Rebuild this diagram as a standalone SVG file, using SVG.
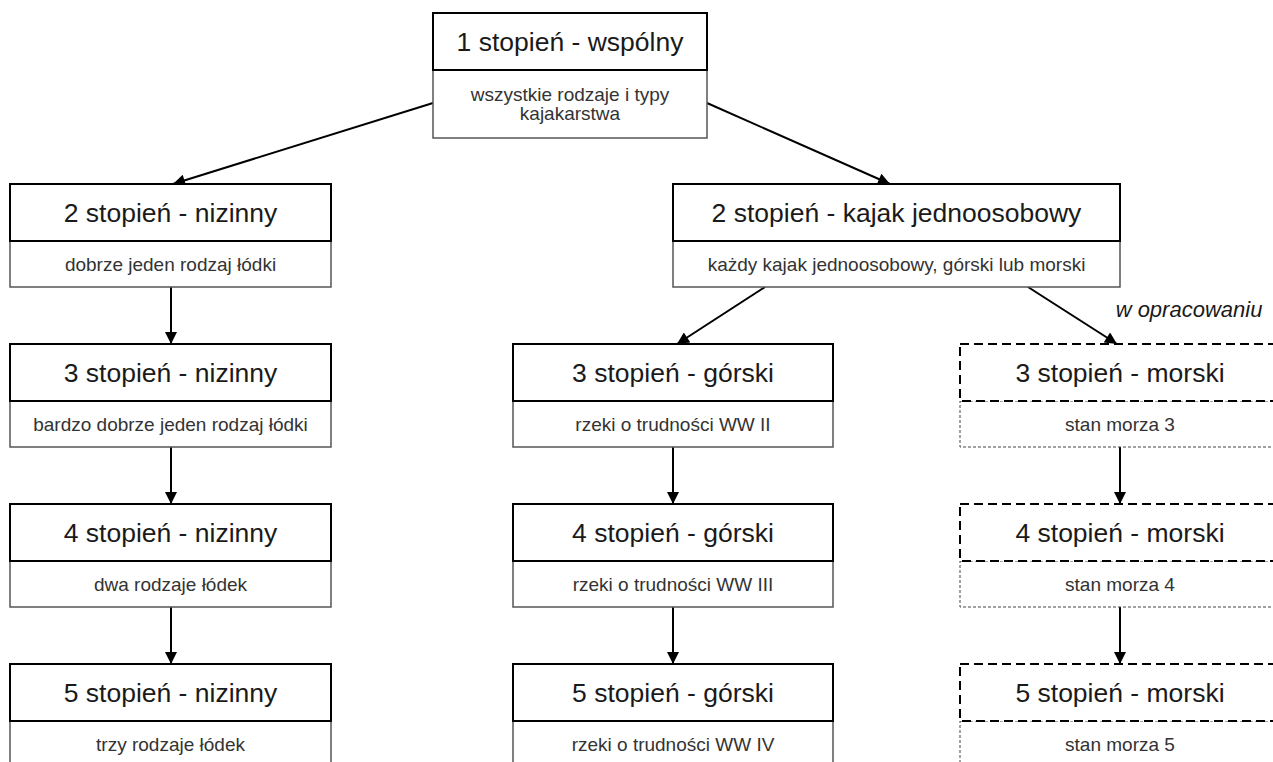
<svg xmlns="http://www.w3.org/2000/svg" width="1273" height="762" viewBox="0 0 1273 762">
<style>
.hdr{fill:#fff;stroke:#000;stroke-width:2}
.bdy{fill:#fff;stroke:#555;stroke-width:1.5}
.hdrd{fill:none;stroke:#000;stroke-width:2;stroke-dasharray:9 5}
.bdyd{fill:#fff;stroke:#444;stroke-width:1;stroke-dasharray:3 2}
.t1{font-family:"Liberation Sans",Arial,sans-serif;font-size:26.5px;fill:#1a1a1a;text-anchor:middle}
.t2{font-family:"Liberation Sans",Arial,sans-serif;font-size:19px;fill:#333;text-anchor:middle}
.note{font-family:"Liberation Sans",Arial,sans-serif;font-size:22px;font-style:italic;fill:#1a1a1a;text-anchor:middle}
.conn line{stroke:#000;stroke-width:2;marker-end:url(#arr)}
</style>
<defs>
<marker id="arr" viewBox="0 0 10 10" refX="10" refY="5" markerWidth="15" markerHeight="12" markerUnits="userSpaceOnUse" orient="auto">
<path d="M0,0 L10,5 L0,10 z" fill="#000"/>
</marker>
</defs>
<rect width="1273" height="762" fill="#fff"/>

<g class="conn" id="connectors">
<line x1="433" y1="103" x2="173" y2="184"/>
<line x1="707" y1="103" x2="890" y2="184"/>
<line x1="765" y1="287" x2="677" y2="344"/>
<line x1="1028" y1="287" x2="1117" y2="344"/>
<line x1="171" y1="287" x2="171" y2="344"/>
<line x1="171" y1="447" x2="171" y2="504"/>
<line x1="171" y1="607" x2="171" y2="664"/>
<line x1="673" y1="447" x2="673" y2="504"/>
<line x1="673" y1="607" x2="673" y2="664"/>
<line x1="1120" y1="447" x2="1120" y2="504"/>
<line x1="1120" y1="607" x2="1120" y2="664"/>
</g>

<g id="n1">
<rect class="bdy" x="433" y="70" width="274" height="68"/>
<rect class="hdr" x="433" y="13" width="274" height="57"/>
<text class="t1" x="570" y="50.5">1 stopień - wspólny</text>
<text class="t2" x="570" y="101">wszystkie rodzaje i typy</text>
<text class="t2" x="570" y="120">kajakarstwa</text>
</g>

<g id="n2n">
<rect class="bdy" x="10" y="241" width="321" height="46"/>
<rect class="hdr" x="10" y="184" width="321" height="57"/>
<text class="t1" x="170.5" y="221.8">2 stopień - nizinny</text>
<text class="t2" x="170.5" y="270.6">dobrze jeden rodzaj łódki</text>
</g>
<g id="n3n">
<rect class="bdy" x="10" y="401" width="321" height="46"/>
<rect class="hdr" x="10" y="344" width="321" height="57"/>
<text class="t1" x="170.5" y="381.8">3 stopień - nizinny</text>
<text class="t2" x="170.5" y="430.6">bardzo dobrze jeden rodzaj łódki</text>
</g>
<g id="n4n">
<rect class="bdy" x="10" y="561" width="321" height="46"/>
<rect class="hdr" x="10" y="504" width="321" height="57"/>
<text class="t1" x="170.5" y="541.8">4 stopień - nizinny</text>
<text class="t2" x="170.5" y="590.6">dwa rodzaje łódek</text>
</g>
<g id="n5n">
<rect class="bdy" x="10" y="721" width="321" height="46"/>
<rect class="hdr" x="10" y="664" width="321" height="57"/>
<text class="t1" x="170.5" y="701.8">5 stopień - nizinny</text>
<text class="t2" x="170.5" y="750.6">trzy rodzaje łódek</text>
</g>

<g id="n2k">
<rect class="bdy" x="673" y="241" width="447" height="46"/>
<rect class="hdr" x="673" y="184" width="447" height="57"/>
<text class="t1" x="896.5" y="221.8">2 stopień - kajak jednoosobowy</text>
<text class="t2" x="896.5" y="270.6">każdy kajak jednoosobowy, górski lub morski</text>
</g>

<g id="n3g">
<rect class="bdy" x="513" y="401" width="320" height="46"/>
<rect class="hdr" x="513" y="344" width="320" height="57"/>
<text class="t1" x="673" y="381.8">3 stopień - górski</text>
<text class="t2" x="673" y="430.6">rzeki o trudności WW II</text>
</g>
<g id="n4g">
<rect class="bdy" x="513" y="561" width="320" height="46"/>
<rect class="hdr" x="513" y="504" width="320" height="57"/>
<text class="t1" x="673" y="541.8">4 stopień - górski</text>
<text class="t2" x="673" y="590.6">rzeki o trudności WW III</text>
</g>
<g id="n5g">
<rect class="bdy" x="513" y="721" width="320" height="46"/>
<rect class="hdr" x="513" y="664" width="320" height="57"/>
<text class="t1" x="673" y="701.8">5 stopień - górski</text>
<text class="t2" x="673" y="750.6">rzeki o trudności WW IV</text>
</g>

<g id="n3m">
<rect class="bdyd" x="960" y="401" width="320" height="46"/>
<rect fill="#fff" x="960" y="344" width="320" height="57"/>
<rect class="hdrd" x="960" y="344" width="320" height="57"/>
<text class="t1" x="1120" y="381.8">3 stopień - morski</text>
<text class="t2" x="1120" y="430.6">stan morza 3</text>
</g>
<g id="n4m">
<rect class="bdyd" x="960" y="561" width="320" height="46"/>
<rect fill="#fff" x="960" y="504" width="320" height="57"/>
<rect class="hdrd" x="960" y="504" width="320" height="57"/>
<text class="t1" x="1120" y="541.8">4 stopień - morski</text>
<text class="t2" x="1120" y="590.6">stan morza 4</text>
</g>
<g id="n5m">
<rect class="bdyd" x="960" y="721" width="320" height="46"/>
<rect fill="#fff" x="960" y="664" width="320" height="57"/>
<rect class="hdrd" x="960" y="664" width="320" height="57"/>
<text class="t1" x="1120" y="701.8">5 stopień - morski</text>
<text class="t2" x="1120" y="750.6">stan morza 5</text>
</g>

<g id="note">
<text class="note" x="1189" y="317">w opracowaniu</text>
</g>
</svg>
